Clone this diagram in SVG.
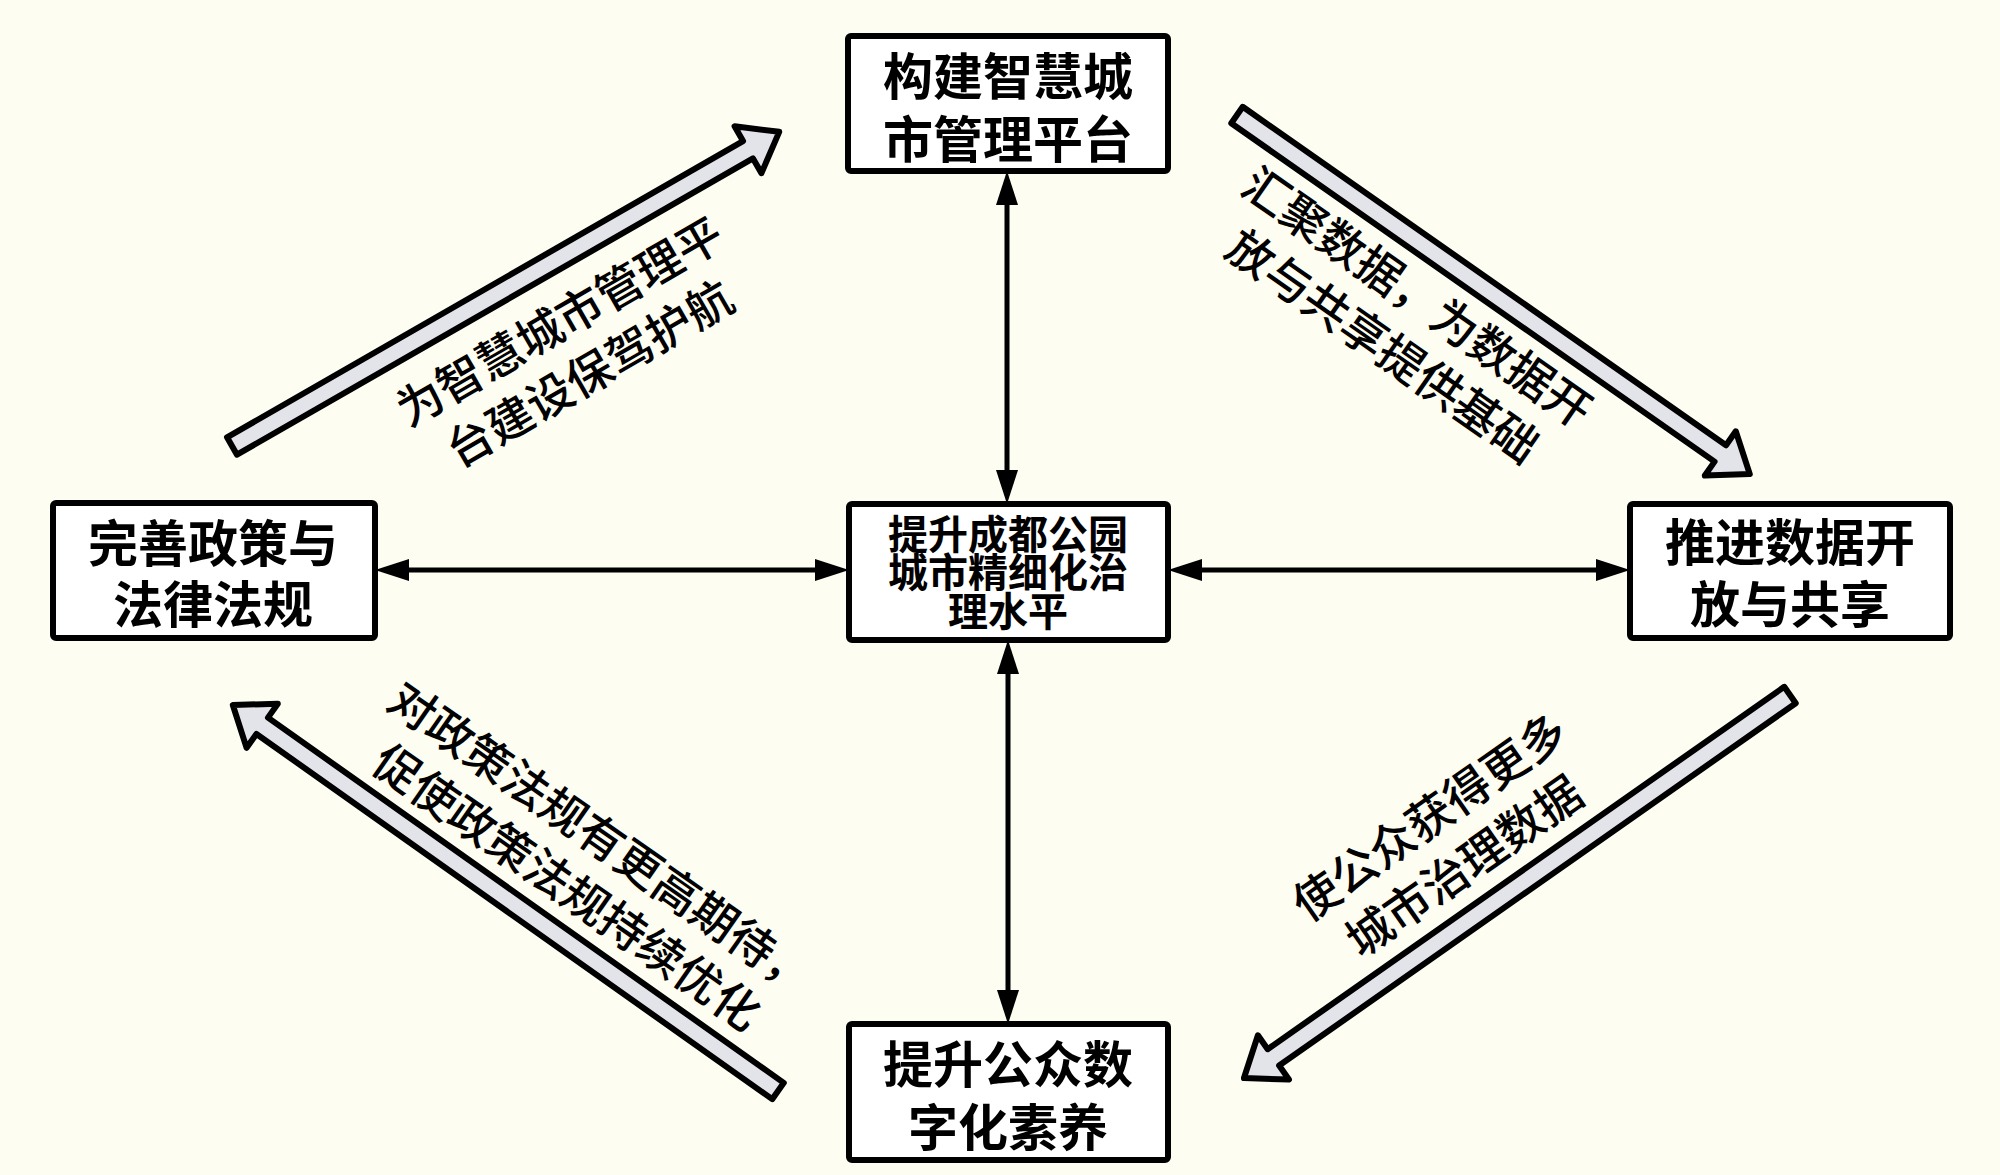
<svg xmlns="http://www.w3.org/2000/svg" width="2000" height="1175" viewBox="0 0 2000 1175">
<defs>
<style>
.box{fill:#ffffff;stroke:#000;stroke-width:6}
.bt{font-family:"Noto Sans CJK SC","Noto Sans",sans-serif;font-size:50px;font-weight:bold;fill:#000;text-anchor:middle;dominant-baseline:central}
.ct{font-family:"Noto Sans CJK SC","Noto Sans",sans-serif;font-size:40px;font-weight:bold;fill:#000;text-anchor:middle;dominant-baseline:central}
.rt{font-family:"Noto Sans CJK SC","Noto Sans",sans-serif;font-size:46px;font-weight:500;fill:#000;text-anchor:middle;dominant-baseline:central}
.con{stroke:#000;stroke-width:5;fill:none;marker-start:url(#ah);marker-end:url(#ah)}
.blk{fill:#e3e3ea;stroke:#000;stroke-width:6;stroke-linejoin:round}
</style>
<marker id="ah" viewBox="0 0 34 22" refX="14" refY="11" markerWidth="34" markerHeight="22" markerUnits="userSpaceOnUse" orient="auto-start-reverse">
<path d="M0,0 L34,11 L0,22 Z" fill="#000"/>
</marker>
</defs>
<rect width="2000" height="1175" fill="#fdfdf1"/>

<g id="connectors">
<line class="con" x1="1007" y1="191" x2="1007" y2="484"/>
<line class="con" x1="1008" y1="660" x2="1008" y2="1004"/>
<line class="con" x1="395" y1="570" x2="829" y2="570"/>
<line class="con" x1="1188" y1="570" x2="1610" y2="570"/>
<g id="arrow-tl" transform="translate(232,446) rotate(-29.86)">
<polygon class="blk" points="0,-10 595,-10 595,-27 631,0 595,27 595,10 0,10"/>
</g>
<g id="arrow-tr" transform="translate(1237,115) rotate(35)">
<polygon class="blk" points="0,-10 590,-10 590,-27 626,0 590,27 590,10 0,10"/>
</g>
<g id="arrow-br" transform="translate(1790,695) rotate(144.95)">
<polygon class="blk" points="0,-10 631,-10 631,-27 667,0 631,27 631,10 0,10"/>
</g>
<g id="arrow-bl" transform="translate(778,1091) rotate(-144.7)">
<polygon class="blk" points="0,-10 632,-10 632,-27 668,0 632,27 632,10 0,10"/>
</g>
</g>

<g id="label-tl" transform="translate(573,345) rotate(-30)">
<text class="rt" x="0" y="-30">为智慧城市管理平</text>
<text class="rt" x="0" y="30">台建设保驾护航</text>
</g>
<g id="label-tr" transform="translate(1402,319) rotate(35)">
<text class="rt" x="0" y="-30">汇聚数据，为数据开</text>
<text class="rt" x="0" y="30">放与共享提供基础</text>
</g>
<g id="label-br" transform="translate(1445,839) rotate(-35)">
<text class="rt" x="0" y="-30">使公众获得更多</text>
<text class="rt" x="0" y="30">城市治理数据</text>
</g>
<g id="label-bl" transform="translate(586,860) rotate(35)">
<text class="rt" x="0" y="-30">对政策法规有更高期待，</text>
<text class="rt" x="0" y="30">促使政策法规持续优化</text>
</g>

<g id="node-top">
<rect class="box" x="848" y="36" width="320" height="135" rx="3"/>
<text class="bt" x="1008" y="73">构建智慧城</text>
<text class="bt" x="1008" y="136">市管理平台</text>
</g>
<g id="node-center">
<rect class="box" x="849" y="504" width="319" height="136" rx="3"/>
<text class="ct" x="1008" y="532">提升成都公园</text>
<text class="ct" x="1008" y="570">城市精细化治</text>
<text class="ct" x="1008" y="609">理水平</text>
</g>
<g id="node-bottom">
<rect class="box" x="849" y="1024" width="319" height="136" rx="3"/>
<text class="bt" x="1008" y="1061">提升公众数</text>
<text class="bt" x="1008" y="1124">字化素养</text>
</g>
<g id="node-left">
<rect class="box" x="53" y="503" width="322" height="135" rx="3"/>
<text class="bt" x="213" y="540">完善政策与</text>
<text class="bt" x="213" y="601">法律法规</text>
</g>
<g id="node-right">
<rect class="box" x="1630" y="504" width="320" height="134" rx="3"/>
<text class="bt" x="1790" y="539">推进数据开</text>
<text class="bt" x="1790" y="601">放与共享</text>
</g>
</svg>
